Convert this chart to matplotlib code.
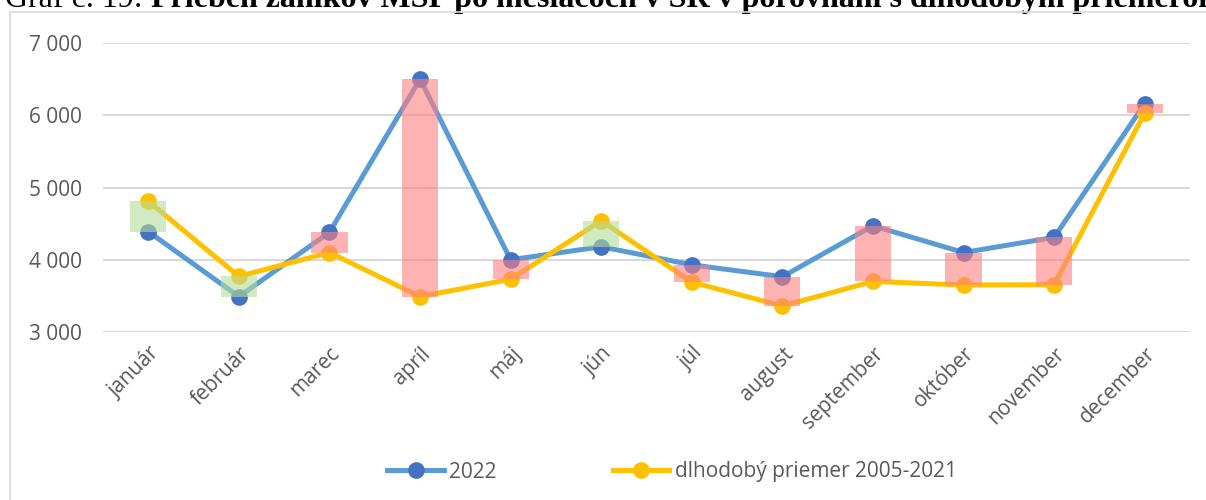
import matplotlib.pyplot as plt
from matplotlib.patches import Rectangle
from matplotlib.ticker import FuncFormatter

months = ["január", "február", "marec", "apríl", "máj", "jún",
          "júl", "august", "september", "október", "november", "december"]
y2022 = [4390, 3490, 4380, 6500, 4000, 4180, 3930, 3765, 4470, 4100, 4310, 6160]
avg = [4810, 3770, 4100, 3490, 3730, 4540, 3690, 3360, 3700, 3650, 3655, 6030]

W, H = 1206, 500
fig = plt.figure(figsize=(W / 100, H / 100), dpi=100)
ax = fig.add_axes([103 / W, 1 - 332 / H, 1087 / W, 289 / H])

# outer chart frame (partly outside the image)
fig.patches.append(Rectangle((10 / W, -0.1), 1.2, 1 - 12 / H + 0.1,
                             transform=fig.transFigure, fill=False,
                             edgecolor='#d9d9d9', linewidth=1.2))

x = list(range(len(months)))

# floating difference bars
for i in x:
    lo, hi = sorted((y2022[i], avg[i]))
    col = '#ff8080' if y2022[i] > avg[i] else '#b5dc9a'
    ax.bar(i, hi - lo, bottom=lo, width=0.4, color=col, alpha=0.6,
           zorder=4, linewidth=0)

ax.plot(x, y2022, color='#5b9bd5', linewidth=3.6, marker='o', markersize=11,
        markerfacecolor='#4472c4', markeredgecolor='#4472c4', zorder=3, label='2022')
ax.plot(x, avg, color='#ffc000', linewidth=3.6, marker='o', markersize=11,
        markerfacecolor='#ffc000', markeredgecolor='#ffc000', zorder=3,
        label='dlhodobý priemer 2005-2021')

ax.set_xlim(-0.5, 11.5)
ax.set_ylim(3000, 7000)
ax.set_yticks([3000, 4000, 5000, 6000, 7000])
ax.yaxis.set_major_formatter(FuncFormatter(lambda v, p: f"{int(v):,}".replace(",", " ")))
ax.set_xticks(x)
ax.set_xticklabels(months, rotation=45, ha='right', rotation_mode='anchor',
                   fontsize=15, color='#595959', family='Open Sans')
for lab in ax.get_yticklabels():
    lab.set_family('Open Sans')
    lab.set_fontsize(15)
    lab.set_color('#595959')
ax.tick_params(axis='both', length=0)
ax.tick_params(axis='y', pad=15)
ax.tick_params(axis='x', pad=8)
ax.grid(axis='y', color='#d9d9d9', linewidth=1.5)
ax.set_axisbelow(True)
for s in ax.spines.values():
    s.set_visible(False)

leg = fig.legend(loc='center', bbox_to_anchor=(672 / W, 1 - 472 / H), ncol=2,
                 frameon=False, handlelength=2.7, handletextpad=0.25,
                 columnspacing=5.6, prop={'family': 'Open Sans', 'size': 15})
for t in leg.get_texts():
    t.set_color('#595959')

# title, cut off at the top edge
t1 = fig.text(5 / W, 1 - 7 / H, "Graf č. 19: ", family='Liberation Serif',
              fontsize=23, va='baseline', ha='left')
ax.annotate("Priebeh zánikov MSP po mesiacoch v SR v porovnaní s dlhodobým priemerom",
            xy=(1, 0), xycoords=t1, va='bottom', ha='left',
            family='Liberation Serif', fontsize=23, fontweight='bold',
            annotation_clip=False)

fig.savefig('out.png', dpi=100)
